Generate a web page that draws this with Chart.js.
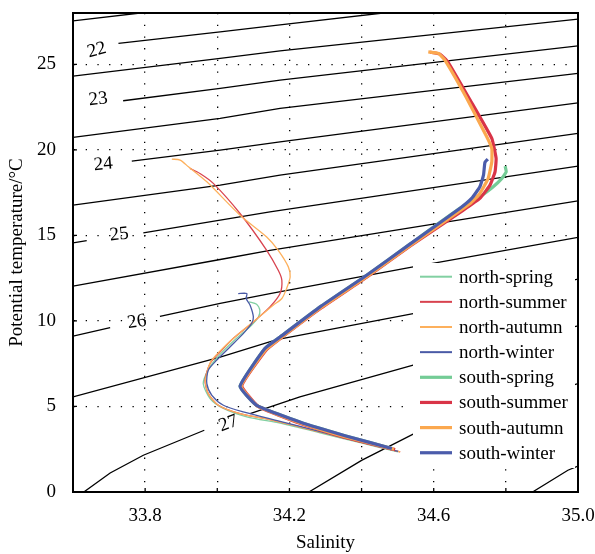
<!DOCTYPE html>
<html>
<head>
<meta charset="utf-8">
<script src="https://cdn.jsdelivr.net/npm/chart.js@4.4.0/dist/chart.umd.min.js"></script>
<style>
  html, body { margin: 0; padding: 0; background: #fff; }
</style>
</head>
<body>
<canvas id="tsChart" width="595" height="554"></canvas>
<script>
/* ============== Data (salinity, potential temperature) =========== */

const seriesNames = ['north-spring', 'north-summer', 'north-autumn', 'north-winter',
  'south-spring', 'south-summer', 'south-autumn', 'south-winter'];
const seriesColors = ['#82d0a2', '#d8434f', '#fdb05c', '#4a5aa6',
  '#74cc96', '#d93447', '#fba84f', '#4b5cab'];
const seriesWidths = [1.3, 1.3, 1.3, 1.3, 3.2, 3.2, 3.2, 3.2];

const northSpring = [[34.088, 11.12], [34.109, 10.98], [34.118, 10.63], [34.114, 10.23], [34.095, 9.75],
  [34.063, 9.16], [34.030, 8.52], [33.998, 7.82], [33.974, 7.12], [33.961, 6.34], [33.980, 5.46],
  [34.017, 4.88], [34.082, 4.39], [34.174, 4.02], [34.285, 3.46], [34.396, 2.88], [34.501, 2.35]];
const northSummer = [[33.924, 18.92], [33.952, 18.62], [33.989, 18.04], [34.063, 16.28], [34.137, 14.13],
  [34.169, 12.96], [34.179, 12.38], [34.174, 11.60], [34.146, 10.82], [34.100, 9.94], [34.044, 8.97],
  [34.008, 8.19], [33.980, 7.51], [33.966, 6.53], [33.975, 5.75], [34.003, 5.07], [34.063, 4.58],
  [34.155, 4.19], [34.285, 3.51], [34.396, 2.91], [34.507, 2.34]];
const northAutumn = [[33.874, 19.46], [33.897, 19.40], [33.920, 19.01], [33.971, 18.13], [34.063, 16.18],
  [34.137, 14.91], [34.169, 14.13], [34.197, 13.16], [34.202, 12.57], [34.192, 11.89], [34.179, 11.31],
  [34.155, 10.92], [34.105, 10.04], [34.049, 9.06], [34.010, 8.29], [33.981, 7.58], [33.967, 6.53],
  [33.975, 5.75], [34.003, 5.07], [34.063, 4.58], [34.155, 4.19], [34.285, 3.51], [34.396, 2.91],
  [34.507, 2.34]];
const northWinter = [[34.058, 11.60], [34.082, 11.60], [34.080, 11.31], [34.091, 10.92], [34.100, 10.23],
  [34.095, 9.85], [34.072, 9.26], [34.035, 8.48], [33.998, 7.70], [33.975, 7.12], [33.971, 6.34],
  [33.985, 5.65], [34.017, 5.07], [34.072, 4.68], [34.174, 4.13], [34.285, 3.53], [34.396, 2.93],
  [34.501, 2.38]];
const southSpring = [[34.798, 19.05], [34.801, 18.71], [34.789, 18.33], [34.765, 17.84], [34.728, 17.25],
  [34.701, 16.88], [34.673, 16.59], [34.534, 14.49], [34.414, 12.67], [34.285, 10.82], [34.174, 9.06],
  [34.132, 8.39], [34.063, 6.18], [34.109, 5.07], [34.229, 4.09], [34.354, 3.29], [34.484, 2.54]];
const southSummer = [[34.590, 25.71], [34.617, 25.60], [34.640, 25.12], [34.701, 22.91], [34.761, 20.67],
  [34.773, 19.50], [34.770, 18.71], [34.756, 17.94], [34.728, 17.16], [34.678, 16.42], [34.534, 14.37],
  [34.414, 12.55], [34.285, 10.71], [34.174, 8.96], [34.135, 8.29], [34.068, 6.21], [34.113, 5.01],
  [34.229, 4.02], [34.354, 3.20], [34.493, 2.48]];
const southAutumn = [[34.585, 25.73], [34.613, 25.64], [34.631, 25.25], [34.690, 23.08], [34.747, 20.76],
  [34.761, 20.08], [34.761, 19.30], [34.751, 18.33], [34.728, 17.45], [34.701, 16.87], [34.534, 14.40],
  [34.414, 12.58], [34.285, 10.74], [34.174, 8.98], [34.134, 8.31], [34.066, 6.20], [34.111, 5.03],
  [34.229, 4.05], [34.354, 3.23], [34.490, 2.50]];
const southWinter = [[34.750, 19.46], [34.742, 19.27], [34.738, 18.52], [34.728, 17.84], [34.705, 17.16],
  [34.673, 16.59], [34.534, 14.49], [34.414, 12.67], [34.285, 10.82], [34.174, 9.06], [34.132, 8.39],
  [34.063, 6.18], [34.109, 5.07], [34.229, 4.09], [34.354, 3.29], [34.484, 2.54]];

const seriesData = [northSpring, northSummer, northAutumn, northWinter,
  southSpring, southSummer, southAutumn, southWinter];

/* ============== Isopycnals (sigma-theta), null = gap for label =========== */

const sig215 = [[33.600, 27.54], [33.786, 28.00]];
const sig22 = [[33.726, 26.22], [34.008, 26.90], [34.174, 27.30], [34.459, 28.00]];
const sig225 = [[33.600, 24.31], [34.008, 25.35], [34.174, 25.78], [35.000, 27.64]];
const sig23 = [[33.739, 22.87], [34.008, 23.59], [34.174, 24.08], [35.000, 26.08]];
const sig235 = [[33.600, 20.73], [34.008, 21.84], [34.174, 22.42], [35.000, 24.47]];
const sig24 = [[33.763, 19.34], [34.008, 19.98], [34.174, 20.47], [35.000, 22.75]];
const sig245 = [[33.600, 16.77], [34.008, 17.94], [34.174, 18.52], [35.000, 20.96]];
const sig25 = [[33.600, 14.56], [33.638, 14.70], null, [33.795, 15.15], [34.008, 15.89], [34.146, 16.37], [35.000, 19.05]];
const sig255 = [[33.600, 12.03], [34.008, 13.59], [34.146, 14.13], [35.000, 17.02]];
const sig26 = [[33.600, 9.11], [33.703, 9.61], null, [33.841, 10.27], [34.008, 11.02], [34.146, 11.60], [34.543, 13.16], [35.000, 14.88]];
const sig265 = [[33.600, 5.56], [34.008, 7.89], [34.165, 8.91], [34.543, 10.43], [35.000, 12.44]];
const sig27 = [[33.630, 0.00], [33.703, 1.11], [33.795, 2.15], [33.964, 3.61], null, [34.091, 4.58], [34.229, 5.56], [34.543, 7.41], [35.000, 9.71]];
const sig275 = [[34.254, 0.00], [34.400, 1.85], [34.543, 3.38], [35.000, 6.34]];
const sig28 = [[34.874, 0.00], [34.972, 1.27], [35.000, 1.52]];

const isopycnals = [sig215, sig22, sig225, sig23, sig235, sig24, sig245, sig25,
  sig255, sig26, sig265, sig27, sig275, sig28];

// contour labels: text, salinity, temperature, rotation (deg)
const contourText = ['22', '23', '24', '25', '26', '27'];
const contourS = [33.666, 33.670, 33.684, 33.728, 33.777, 34.031];
const contourT = [25.83, 22.96, 19.15, 15.05, 9.94, 4.00];
const contourRot = [-15, -6, -5, -6, -9, -20];

/* ============== Ticks =========== */

const salinityTicks = [33.8, 34.0, 34.2, 34.4, 34.6, 34.8, 35.0];
const salinityLabels = ['33.8', '', '34.2', '', '34.6', '', '35.0'];
const tempTicks = [0, 5, 10, 15, 20, 25];
const tempLabels = ['0', '5', '10', '15', '20', '25'];

const FONT = '"Liberation Serif", "Times New Roman", serif';
const FS = 19;
Chart.defaults.font.family = FONT;
Chart.defaults.color = '#000';

const toPoints = arr => arr.map(p => p ? { x: p[0], y: p[1] } : { x: null, y: null });

// chart.js paints lower "order" last, so contours get the highest value
const datasets = [];
isopycnals.forEach(line => {
  datasets.push({
    data: toPoints(line),
    showLine: true,
    borderColor: '#000',
    borderWidth: 1.3,
    pointRadius: 0,
    spanGaps: false,
    clip: 0,
    order: 20
  });
});
seriesData.forEach((line, i) => {
  datasets.push({
    label: seriesNames[i],
    data: toPoints(line),
    showLine: true,
    borderColor: seriesColors[i],
    borderWidth: seriesWidths[i],
    pointRadius: 0,
    tension: i < 4 ? 0.25 : 0.12,
    order: 8 - i
  });
});

/* ============== Labels, legend and frame =========== */

const decor = {
  id: 'decor',
  afterDatasetsDraw(chart) {
    const { ctx, chartArea: a, scales: { x, y } } = chart;
    ctx.save();

    // contour values
    ctx.fillStyle = '#000';
    ctx.font = FS + 'px ' + FONT;
    ctx.textAlign = 'center';
    ctx.textBaseline = 'middle';
    contourText.forEach((t, i) => {
      ctx.save();
      ctx.translate(x.getPixelForValue(contourS[i]), y.getPixelForValue(contourT[i]));
      ctx.rotate(contourRot[i] * Math.PI / 180);
      ctx.fillText(t, 0, 0);
      ctx.restore();
    });

    // legend inside plot
    const lx = a.right - 165, ly = a.top + 250;
    ctx.fillStyle = '#fff';
    ctx.fillRect(lx, ly, 162, 205);
    ctx.textAlign = 'left';
    seriesNames.forEach((name, i) => {
      const yy = ly + 13.7 + i * 25.15;
      ctx.strokeStyle = seriesColors[i];
      ctx.lineWidth = seriesWidths[i] < 2 ? 2 : 3.2;
      ctx.beginPath();
      ctx.moveTo(lx + 7, yy);
      ctx.lineTo(lx + 39, yy);
      ctx.stroke();
      ctx.fillStyle = '#000';
      ctx.fillText(name, lx + 46, yy + 1);
    });

    // frame and inward ticks
    ctx.strokeStyle = '#000';
    ctx.lineWidth = 2;
    ctx.strokeRect(a.left, a.top, a.right - a.left, a.bottom - a.top);
    ctx.lineWidth = 1.3;
    ctx.beginPath();
    salinityTicks.forEach(v => {
      const px = x.getPixelForValue(v);
      ctx.moveTo(px, a.bottom);
      ctx.lineTo(px, a.bottom - 4);
    });
    tempTicks.forEach(v => {
      const py = y.getPixelForValue(v);
      ctx.moveTo(a.left, py);
      ctx.lineTo(a.left + 4, py);
    });
    ctx.stroke();
    ctx.restore();
  }
};

const tsChart = new Chart(document.getElementById('tsChart'), {
  type: 'scatter',
  data: { datasets },
  options: {
    responsive: false,
    animation: false,
    events: [],
    layout: { padding: { top: 13, right: 17, bottom: 0, left: 0 } },
    plugins: { legend: { display: false }, tooltip: { enabled: false } },
    scales: {
      x: {
        type: 'linear',
        min: 33.6,
        max: 35.0,
        afterBuildTicks: s => { s.ticks = salinityTicks.map(v => ({ value: v })); },
        afterFit: s => { s.height = 62; s.paddingLeft = 0; s.paddingRight = 0; },
        ticks: {
          autoSkip: false,
          maxRotation: 0,
          padding: 13,
          font: { size: FS },
          callback: (v, i) => salinityLabels[i]
        },
        grid: { color: '#000', lineWidth: 1.3, drawTicks: false },
        border: { display: true, color: '#000', width: 2, dash: [1.3, 10.4] },
        title: { display: true, text: 'Salinity', font: { size: FS }, padding: { top: 0, bottom: 0 } }
      },
      y: {
        type: 'linear',
        min: 0,
        max: 28,
        afterBuildTicks: s => { s.ticks = tempTicks.map(v => ({ value: v })); },
        afterFit: s => { s.width = 73; s.paddingTop = 0; s.paddingBottom = 0; },
        ticks: {
          autoSkip: false,
          padding: 17,
          font: { size: FS },
          callback: (v, i) => tempLabels[i]
        },
        grid: { color: '#000', lineWidth: 1.3, drawTicks: false },
        border: { display: true, color: '#000', width: 2, dash: [1.3, 10.4] },
        title: { display: true, text: 'Potential temperature/°C', font: { size: FS }, padding: { top: 6, bottom: 0 } }
      }
    }
  },
  plugins: [decor]
});
</script>
</body>
</html>
